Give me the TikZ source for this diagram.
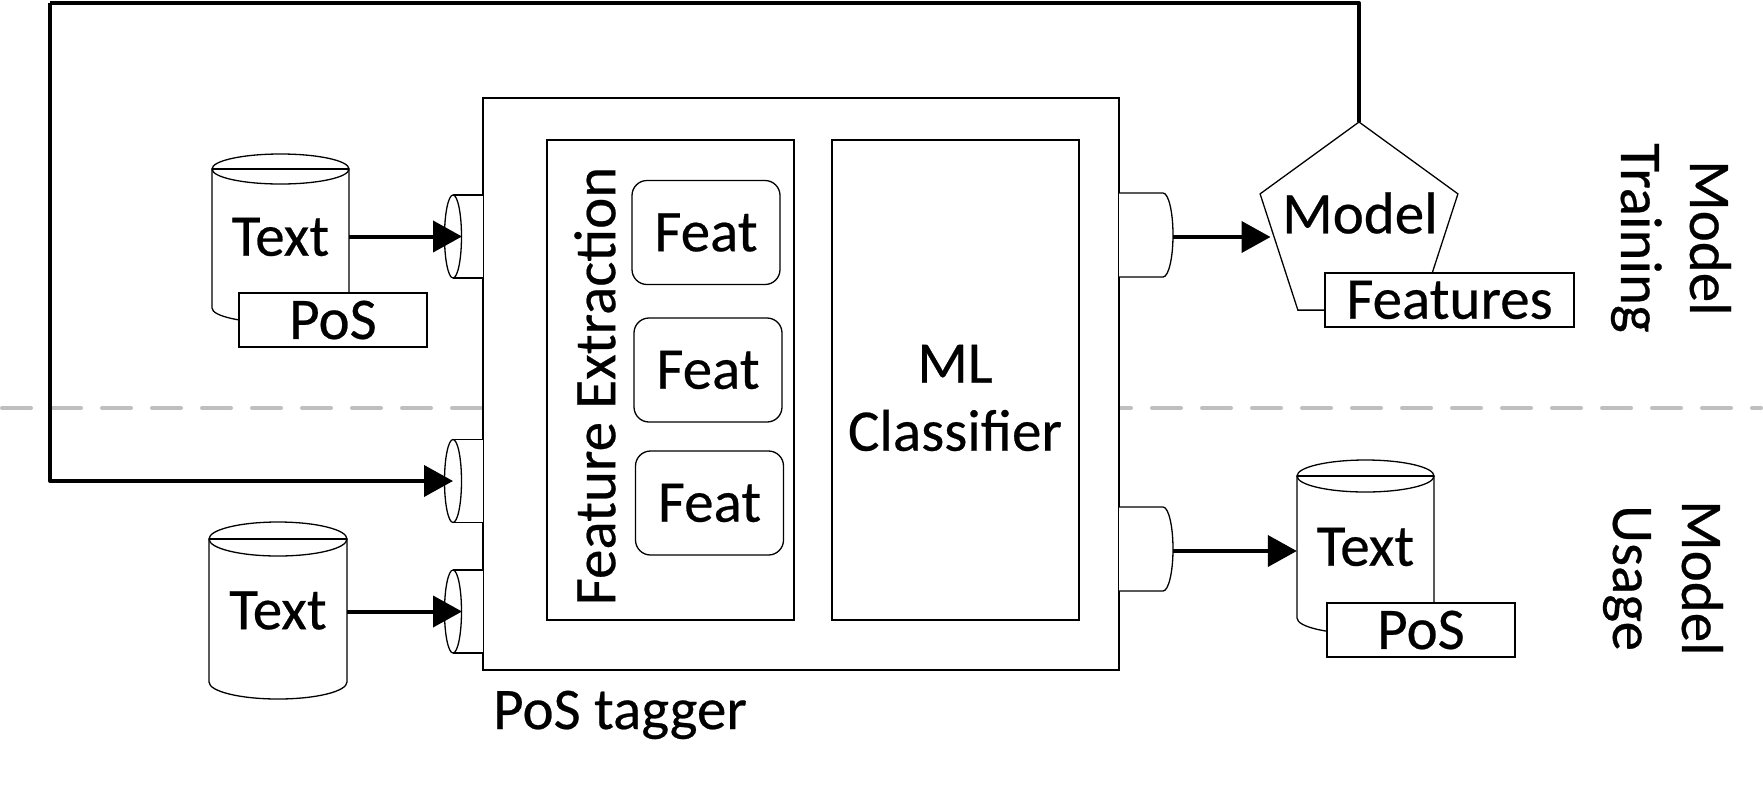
\documentclass[tikz,border=0pt]{standalone}
\usepackage{fontspec}
\setmainfont{Carlito}[FakeBold=0.4]
\usetikzlibrary{arrows.meta,shapes.geometric}
\begin{document}
\begin{tikzpicture}[x=1pt,y=-1pt,
  font=\fontsize{59pt}{68pt}\selectfont,
  thinl/.style={line width=1.3pt, draw=black},
  arr/.style={line width=4pt, line join=round, -{Triangle[length=29pt,width=31pt]}},
  loopl/.style={line width=4pt, line join=round},
  dashl/.style={line width=4pt, draw=black!25, dash pattern=on 29pt off 21pt, line cap=round},
  boxn/.style={thinl, fill=white, inner sep=0pt},
  featn/.style={thinl, fill=white, inner sep=0pt, rounded corners=15pt, minimum width=148pt, minimum height=104pt},
  posn/.style={thinl, fill=white, inner sep=0pt, minimum width=188pt, minimum height=54pt},
  cyltext/.style={inner sep=0pt},
  sidelab/.style={rotate=-90, align=center, inner sep=0pt, font=\fontsize{59pt}{69pt}\selectfont}]
\useasboundingbox (0,0) rectangle (1763,788);

% separator
\coordinate (dl) at (2,408);
\coordinate (dr) at (1761,408);
\draw[dashl] (dl) -- (dr);

% main box
\node[boxn, line width=1.6pt, minimum width=636pt, minimum height=572pt] (main) at (801,384) {};
\node[boxn, minimum width=247pt, minimum height=480pt] (fe) at (670.5,380) {};
\node[rotate=90, inner sep=0pt] (fetext) at (595,386) {Feature Extraction};
\node[featn] (f1) at (706,232.5) {Feat};
\node[featn] (f2) at (708,370) {Feat};
\node[featn] (f3) at (709.5,503) {Feat};
\node[boxn, minimum width=247pt, minimum height=480pt] (ml) at (955.5,380) {};
\node[align=center, inner sep=0pt] (mltext) at (955,398) {ML\\Classifier};
\node[anchor=base west, inner sep=0pt] (tagger) at (493,729) {PoS tagger};

% left ports
\foreach \yc/\nm in {236.5/pL1, 481/pL2, 611.5/pL3}{
  \fill[white] (453,\yc-41.5) rectangle (483,\yc+41.5);
  \draw[thinl] (453,\yc-41.5) -- (483,\yc-41.5);
  \draw[thinl] (453,\yc+41.5) -- (483,\yc+41.5);
  \draw[thinl, fill=white] (453,\yc) ellipse [x radius=8.5, y radius=41.5];
  \coordinate (\nm) at (453,\yc);
}
% right ports
\foreach \yc/\nm in {235/pR1, 549/pR2}{
  \draw[thinl, fill=white] (1119,\yc-42) -- (1163,\yc-42) arc[start angle=-90, end angle=90, x radius=10, y radius=42] -- (1119,\yc+42);
  \coordinate (\nm) at (1173,\yc+2);
}

% cylinder 1 (training text)
\draw[thinl, fill=white] (212,169) -- (212,308) arc[start angle=180, end angle=0, x radius=68.5, y radius=15] -- (349,169) -- cycle;
\draw[thinl, fill=white] (280.5,169) ellipse [x radius=68.5, y radius=15];
\draw[thinl] (212,169) -- (349,169);
\node[cyltext, minimum width=137pt, minimum height=139pt] (c1) at (280.5,237) {Text};
\node[posn] (pos1) at (333,320) {PoS};

% cylinder 2 (usage text)
\draw[thinl, fill=white] (209,539) -- (209,682) arc[start angle=180, end angle=0, x radius=69, y radius=17] -- (347,539) -- cycle;
\draw[thinl, fill=white] (278,539) ellipse [x radius=69, y radius=17];
\draw[thinl] (209,539) -- (347,539);
\node[cyltext, minimum width=138pt, minimum height=143pt] (c2) at (278,610.5) {Text};

% cylinder 3 (output text)
\draw[thinl, fill=white] (1297,476) -- (1297,618) arc[start angle=180, end angle=0, x radius=68.5, y radius=16] -- (1434,476) -- cycle;
\draw[thinl, fill=white] (1365.5,476) ellipse [x radius=68.5, y radius=16];
\draw[thinl] (1297,476) -- (1434,476);
\node[cyltext, minimum width=137pt, minimum height=142pt] (c3) at (1365.5,547) {Text};
\node[posn] (pos3) at (1421,630) {PoS};

% model pentagon
\node[regular polygon, regular polygon sides=5, minimum size=208pt, inner sep=0pt, outer sep=0pt, thinl, fill=white] (model) at (1359,226) {};
\node[inner sep=0pt] (modeltext) at (1360,213) {Model};
\node[posn, minimum width=249pt] (feats) at (1449.5,300) {Features};

% side labels
\node[sidelab] (lab1) at (1671,238) {Model\\Training};
\node[sidelab] (lab2) at (1663,578) {Model\\Usage};

% connectors
\draw[arr] (c1.east |- pL1) -- ([xshift=9pt]pL1);
\draw[arr] (c2.east |- pL3) -- ([xshift=9pt]pL3);
\draw[arr] (pR1) -- (pR1 -| model.west);
\draw[arr] (pR2) -- (pR2 -| c3.west);
\coordinate (lpTL) at (50,3);
\draw[loopl] (model.corner 1) |- (lpTL);
\draw[arr] (lpTL) |- (pL2);
\end{tikzpicture}
\end{document}
